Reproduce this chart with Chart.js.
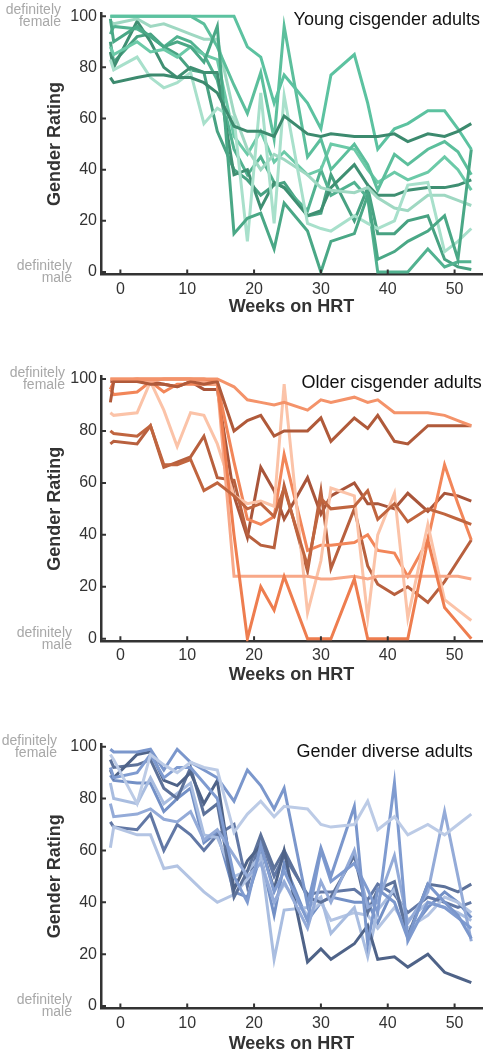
<!DOCTYPE html>
<html>
<head>
<meta charset="utf-8">
<script src="https://cdn.jsdelivr.net/npm/chart.js@4.4.1/dist/chart.umd.min.js"></script>
<style>
  html, body { margin: 0; padding: 0; background: #fff; overflow: hidden; }
  canvas { position: absolute; left: 0; }
</style>
</head>
<body>
<canvas id="young" width="483" height="330" style="top:0px"></canvas>
<canvas id="older" width="483" height="340" style="top:355px"></canvas>
<canvas id="diverse" width="483" height="340" style="top:725px"></canvas>
<script>
// weeks on HRT at each recording
const weeks = [-1.5, -1, 2.5, 4.5, 6.5, 8.5, 10.5, 12.5, 14.5, 17, 19, 21, 23, 24.5, 28, 30, 31.5, 35, 37, 38.5, 41, 43, 46, 48.5, 50.5, 52.5];

const xTicks = [0, 10, 20, 30, 40, 50];
const yTicks = [0, 20, 40, 60, 80, 100];

// young cisgender adults
const young1 = [76, 74, 76, 77, 77, 76, 76, 74, 70, 57, 55, 55, 53, 61, 54, 53, 54, 53, 53, 53, 54, 51, 54, 53, 55, 58];
const young2 = [100, 100, 100, 100, 100, 100, 100, 100, 100, 100, 88, 84, 66, 77, 66, 56, 77, 85, 66, 48, 56, 58, 63, 63, 56, 48];
const young3 = [99, 90, 96, 92, 88, 90, 88, 82, 96, 15, 21, 23, 9, 27, 16, 0, 12, 15, 30, 5, 8, 12, 16, 22, 5, 48];
const young4 = [100, 100, 100, 100, 100, 100, 100, 97, 88, 73, 62, 78, 52, 96, 45, 52, 40, 50, 42, 32, 46, 42, 48, 51, 47, 38];
const young5 = [83, 79, 84, 76, 72, 74, 78, 58, 64, 60, 12, 70, 19, 69, 19, 17, 16, 22, 19, 17, 20, 34, 35, 8, 12, 17];
const young6 = [98, 97, 99, 96, 97, 95, 93, 91, 91, 62, 48, 40, 46, 44, 38, 33, 32, 31, 33, 29, 25, 24, 30, 30, 28, 26];
const young7 = [88, 85, 90, 86, 87, 84, 88, 85, 83, 53, 46, 55, 43, 47, 38, 40, 50, 48, 40, 35, 39, 36, 39, 45, 40, 32];
const young8 = [86, 80, 98, 90, 80, 76, 80, 78, 78, 38, 40, 25, 35, 33, 22, 24, 33, 42, 34, 30, 30, 32, 33, 33, 34, 36];
const young9 = [93, 96, 95, 92, 88, 92, 90, 85, 75, 48, 38, 45, 35, 33, 24, 40, 30, 35, 29, 0, 0, 0, 9, 2, 4, 4];
const young10 = [90, 82, 92, 93, 88, 85, 79, 78, 55, 40, 36, 30, 34, 35, 22, 23, 38, 20, 33, 15, 15, 20, 22, 5, 2, 1];

// older cisgender adults
const older1 = [100, 100, 100, 100, 100, 100, 100, 100, 100, 97, 92, 91, 90, 91, 88, 92, 91, 93, 91, 92, 87, 87, 87, 86, 84, 82];
const older2 = [91, 99, 99, 98, 98, 97, 99, 98, 99, 80, 84, 86, 78, 80, 80, 85, 76, 85, 81, 86, 76, 75, 82, 82, 82, 82];
const older3 = [80, 79, 78, 82, 67, 67, 69, 57, 60, 55, 50, 52, 47, 58, 28, 54, 50, 51, 57, 46, 52, 45, 50, 48, 46, 44];
const older4 = [96, 99, 100, 100, 100, 100, 100, 100, 99, 40, 0, 20, 11, 24, 0, 0, 0, 23, 0, 0, 0, 0, 38, 12, 6, 0];
const older5 = [100, 100, 100, 99, 100, 100, 100, 99, 98, 24, 24, 24, 24, 24, 24, 23, 23, 24, 23, 24, 24, 24, 24, 24, 24, 23];
const older6 = [87, 86, 87, 99, 88, 74, 87, 86, 75, 55, 52, 53, 51, 98, 10, 30, 58, 55, 8, 40, 56, 8, 44, 15, 11, 7];
const older7 = [96, 94, 95, 99, 95, 98, 98, 98, 98, 68, 46, 44, 47, 71, 34, 36, 36, 37, 40, 34, 33, 24, 38, 67, 52, 38];
const older8 = [75, 76, 75, 82, 66, 68, 70, 78, 62, 61, 40, 36, 35, 59, 26, 57, 27, 50, 28, 21, 17, 20, 14, 22, 30, 38];
const older9 = [99, 99, 99, 99, 98, 97, 99, 96, 96, 55, 39, 66, 57, 46, 62, 48, 55, 60, 52, 52, 50, 56, 49, 56, 55, 53];

// gender diverse adults
const diverse1 = [97, 95, 78, 97, 93, 90, 94, 92, 91, 67, 74, 79, 73, 77, 76, 70, 69, 70, 79, 68, 73, 66, 70, 66, 70, 74];
const diverse2 = [99, 98, 98, 99, 91, 99, 94, 91, 88, 79, 91, 85, 76, 84, 39, 61, 50, 77, 24, 45, 40, 26, 47, 40, 35, 26];
const diverse3 = [92, 88, 90, 97, 88, 92, 92, 86, 80, 50, 40, 62, 44, 52, 33, 60, 48, 55, 45, 36, 86, 25, 40, 38, 34, 30];
const diverse4 = [78, 73, 74, 76, 72, 71, 75, 64, 68, 58, 50, 55, 40, 48, 30, 48, 40, 60, 38, 40, 58, 32, 44, 75, 50, 25];
const diverse5 = [91, 88, 97, 98, 87, 85, 90, 78, 87, 45, 56, 62, 45, 60, 17, 22, 18, 24, 31, 18, 19, 15, 20, 13, 11, 9];
const diverse6 = [95, 92, 93, 95, 84, 80, 92, 74, 78, 42, 52, 66, 53, 60, 42, 40, 42, 58, 36, 45, 48, 27, 47, 46, 44, 47];
const diverse7 = [86, 80, 78, 88, 78, 82, 86, 66, 65, 50, 52, 58, 18, 37, 38, 42, 28, 38, 19, 37, 45, 33, 40, 38, 36, 33];
const diverse8 = [61, 69, 66, 66, 53, 54, 49, 44, 40, 43, 49, 56, 40, 47, 35, 40, 33, 36, 35, 30, 38, 30, 35, 42, 40, 36];
const diverse9 = [71, 69, 68, 74, 60, 70, 66, 60, 66, 70, 46, 65, 50, 58, 43, 44, 44, 45, 41, 47, 43, 36, 42, 40, 38, 40];
const diverse10 = [89, 87, 86, 86, 75, 80, 84, 63, 67, 44, 42, 58, 35, 55, 33, 40, 42, 40, 40, 32, 46, 28, 38, 44, 40, 34];

const greens = ['#3c8a6e', '#5cc2a0', '#4aa886', '#5cbf9c', '#a8e0cb', '#9fd8c2', '#6ccaa8', '#3f8f72', '#52b290', '#48a282'];
const oranges = ['#f4936a', '#b05a3a', '#c0653f', '#ee7d4f', '#f8a888', '#fbc3a8', '#f28659', '#b8603e', '#a9553a'];
const blues = ['#bccbe6', '#7b97cc', '#7f9bd0', '#94abd8', '#4f6388', '#5d729a', '#a9bde0', '#b3c4e3', '#6278a5', '#7390c6'];

const axisColor = '#333333';
const fontFamily = '"Liberation Sans", Arial, Helvetica, sans-serif';
Chart.defaults.font.family = fontFamily;

// extra marks matlab-style: inward ticks, panel title, end labels
const panelMarks = {
  id: 'panelMarks',
  afterDraw(chart, args, opts) {
    const { ctx, chartArea: a, scales: { x, y } } = chart;
    ctx.save();
    ctx.strokeStyle = axisColor;
    ctx.lineWidth = 2;
    ctx.beginPath();
    yTicks.forEach(v => {
      const py = y.getPixelForValue(v);
      ctx.moveTo(a.left, py);
      ctx.lineTo(a.left + 5, py);
    });
    xTicks.forEach(v => {
      const px = x.getPixelForValue(v);
      ctx.moveTo(px, a.bottom);
      ctx.lineTo(px, a.bottom - 5);
    });
    ctx.stroke();

    const top = y.getPixelForValue(100);
    const bot = y.getPixelForValue(0);
    ctx.textBaseline = 'middle';
    ctx.textAlign = 'right';
    ctx.fillStyle = '#111';
    ctx.font = '18px ' + fontFamily;
    ctx.fillText(opts.title, opts.titleRight, top + opts.titleDy);

    ctx.fillStyle = '#a8a8a8';
    ctx.font = '14px ' + fontFamily;
    ctx.fillText('definitely', opts.femaleRight, top - 6);
    ctx.fillText('female', opts.femaleRight, top + 6);
    ctx.fillText('definitely', 72, bot - 6);
    ctx.fillText('male', 72, bot + 6);
    ctx.restore();
  }
};

function makePanel(canvasId, series, colors, marks, pad, titlePad) {
  const ctx = document.getElementById(canvasId).getContext('2d');
  return new Chart(ctx, {
    type: 'line',
    data: {
      labels: weeks,
      datasets: series.map((s, i) => ({
        data: s.map((v, j) => ({ x: weeks[j], y: v })),
        borderColor: colors[i],
        borderWidth: 3,
        pointRadius: 0,
        tension: 0,
        fill: false,
      })),
    },
    options: {
      responsive: false,
      animation: false,
      layout: { padding: pad },
      plugins: {
        legend: { display: false },
        tooltip: { enabled: false },
        panelMarks: marks,
      },
      scales: {
        x: {
          type: 'linear',
          min: -2.9,
          max: 54.1,
          afterBuildTicks: s => { s.ticks = xTicks.map(v => ({ value: v })); },
          afterFit: s => { s.height = 50; },
          grid: { display: false, drawTicks: false },
          border: { display: true, color: axisColor, width: 2.5 },
          ticks: { color: '#333', font: { size: 16 }, padding: 5, maxRotation: 0 },
          title: {
            display: true,
            text: 'Weeks on HRT',
            color: '#333',
            font: { size: 18, weight: 'bold' },
            padding: { top: 0, bottom: titlePad },
          },
        },
        y: {
          min: -1,
          max: 101,
          afterBuildTicks: s => { s.ticks = yTicks.map(v => ({ value: v })); },
          afterFit: s => { s.width = 101; },
          grid: { display: false, drawTicks: false },
          border: { display: true, color: axisColor, width: 2.5 },
          ticks: { color: '#333', font: { size: 16 }, padding: 4 },
          title: {
            display: true,
            text: 'Gender Rating',
            color: '#333',
            font: { size: 18, weight: 'bold' },
            padding: { top: 44, bottom: 0 },
          },
        },
      },
    },
    plugins: [panelMarks],
  });
}

makePanel('young',
  [young1, young2, young3, young4, young5, young6, young7, young8, young9, young10],
  greens,
  { title: 'Young cisgender adults', titleRight: 480, titleDy: 4, femaleRight: 61 },
  { top: 9.4, bottom: 5.4, left: 0, right: 1 }, 7);

makePanel('older',
  [older1, older2, older3, older4, older5, older6, older7, older8, older9],
  oranges,
  { title: 'Older cisgender adults', titleRight: 481.7, titleDy: 4, femaleRight: 65 },
  { top: 21.4, bottom: 3.7, left: 0, right: 1 }, 5.5);

makePanel('diverse',
  [diverse1, diverse2, diverse3, diverse4, diverse5, diverse6, diverse7, diverse8, diverse9, diverse10],
  blues,
  { title: 'Gender diverse adults', titleRight: 472.7, titleDy: 5, femaleRight: 57 },
  { top: 19.1, bottom: 6.4, left: 0, right: 1 }, 4);
</script>
</body>
</html>
